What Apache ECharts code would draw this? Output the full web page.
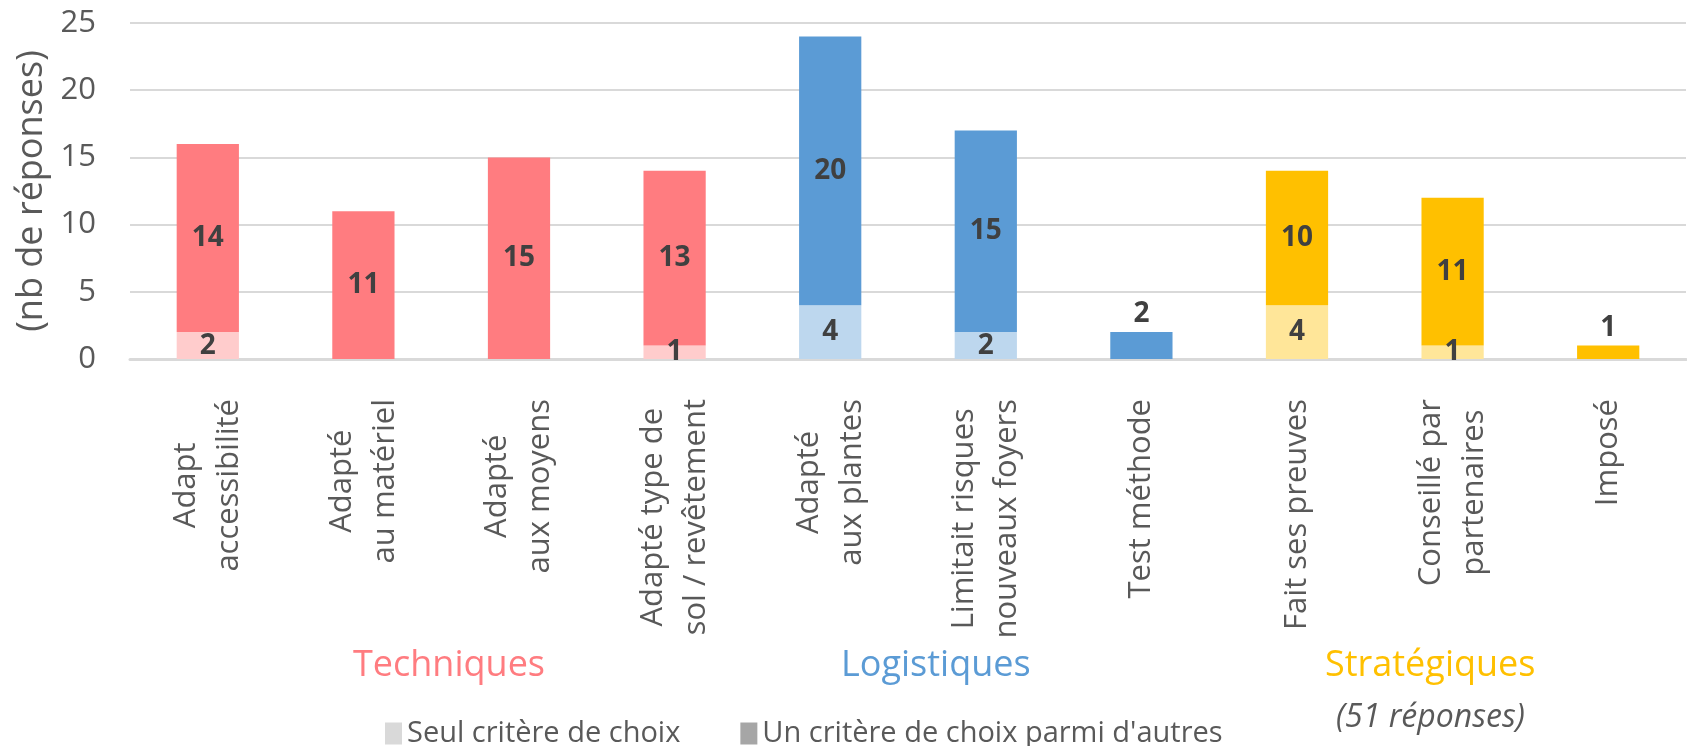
<!DOCTYPE html>
<html>
<head>
<meta charset="utf-8">
<script src="https://cdn.jsdelivr.net/npm/echarts@6/dist/echarts.min.js"></script>
<style>
html, body { margin: 0; padding: 0; background: #fff; }
#chart { width: 1687px; height: 746px; }
</style>
</head>
<body>
<div id="chart"></div>
<script>
// data
var categories = [
    'Adapt\naccessibilité',
    'Adapté\nau matériel',
    'Adapté\naux moyens',
    'Adapté type de\nsol / revêtement',
    'Adapté\naux plantes',
    'Limitait risques\nnouveaux foyers',
    'Test méthode',
    'Fait ses preuves',
    'Conseillé par\npartenaires',
    'Imposé'
];
var groups = ['tech', 'tech', 'tech', 'tech', 'logi', 'logi', 'logi', 'strat', 'strat', 'strat'];
var seulValues = [2, 0, 0, 1, 4, 2, 0, 4, 1, 0];
var autresValues = [14, 11, 15, 13, 20, 15, 2, 10, 11, 1];
var yMin = 0, yMax = 25, yStep = 5;

var seriesNames = ['Seul critère de choix', "Un critère de choix parmi d'autres"];
var groupLabels = { tech: 'Techniques', logi: 'Logistiques', strat: 'Stratégiques' };
var totalNote = '(51 réponses)';

var darkColors = { tech: '#FF7C80', logi: '#5B9BD5', strat: '#FFC000' };
var lightColors = { tech: '#FFCCCC', logi: '#BDD7EE', strat: '#FFE699' };

var chartDom = document.getElementById('chart');
var myChart = echarts.init(chartDom);

var seulData = seulValues.map(function (v, i) {
    return { value: v, itemStyle: { color: lightColors[groups[i]] } };
});
var autresData = autresValues.map(function (v, i) {
    var d = { value: v, itemStyle: { color: darkColors[groups[i]] } };
    // small bars alone: label sits above the bar
    if (seulValues[i] === 0 && v <= 2) {
        d.label = { position: 'top', distance: 4 };
    }
    return d;
});

var labelStyle = {
    show: true,
    position: 'inside',
    color: '#404040',
    fontSize: 28,
    fontWeight: 'bold',
    fontFamily: 'Open Sans',
    formatter: function (p) { return p.value ? String(p.value) : ''; }
};

var option = {
    animation: false,
    backgroundColor: '#fff',
    grid: { left: 130, right: 1, top: 23, bottom: 387 },
    legend: {
        left: 380,
        top: 714,
        icon: 'rect',
        itemWidth: 17,
        itemHeight: 22,
        itemGap: 60,
        textStyle: { fontSize: 29, color: '#595959', fontFamily: 'Open Sans' },
        data: [
            { name: seriesNames[0], itemStyle: { color: '#D9D9D9' } },
            { name: seriesNames[1], itemStyle: { color: '#A6A6A6' } }
        ]
    },
    xAxis: {
        type: 'category',
        data: categories,
        axisTick: { show: false },
        axisLine: { lineStyle: { color: '#D9D9D9', width: 3 } },
        axisLabel: {
            rotate: 90,
            margin: 40,
            interval: 0,
            formatter: function (v) {
                return v.split('\n').map(function (s) { return '{c|' + s + '}'; }).join('\n');
            },
            rich: {
                c: { fontSize: 31, lineHeight: 43, color: '#595959', align: 'center', fontFamily: 'Open Sans' }
            }
        }
    },
    yAxis: {
        type: 'value',
        min: yMin,
        max: yMax,
        interval: yStep,
        name: '(nb de réponses)',
        nameLocation: 'middle',
        nameRotate: 90,
        nameGap: 76,
        nameTextStyle: { fontSize: 36, color: '#595959', fontFamily: 'Open Sans' },
        axisLine: { show: false },
        axisTick: { show: false },
        axisLabel: { fontSize: 31, color: '#595959', margin: 34, fontFamily: 'Open Sans' },
        splitLine: { lineStyle: { color: '#D9D9D9', width: 2 } }
    },
    series: [
        {
            name: seriesNames[0],
            type: 'bar',
            stack: 'total',
            barWidth: '40%',
            color: '#D9D9D9',
            label: labelStyle,
            data: seulData
        },
        {
            name: seriesNames[1],
            type: 'bar',
            stack: 'total',
            barWidth: '40%',
            color: '#A6A6A6',
            label: labelStyle,
            data: autresData
        }
    ],
    graphic: [
        { type: 'text', left: 441 - 88, top: 648, style: { text: groupLabels.tech, fill: darkColors.tech, font: '36px "Open Sans"' } },
        { type: 'text', left: 941 - 100, top: 648, style: { text: groupLabels.logi, fill: darkColors.logi, font: '36px "Open Sans"' } },
        { type: 'text', left: 1431 - 106, top: 648, style: { text: groupLabels.strat, fill: darkColors.strat, font: '36px "Open Sans"' } },
        { type: 'text', left: 1336, top: 702, style: { text: totalNote, fill: '#595959', font: 'italic 32px "Open Sans"' } }
    ]
};

myChart.setOption(option);
</script>
</body>
</html>
